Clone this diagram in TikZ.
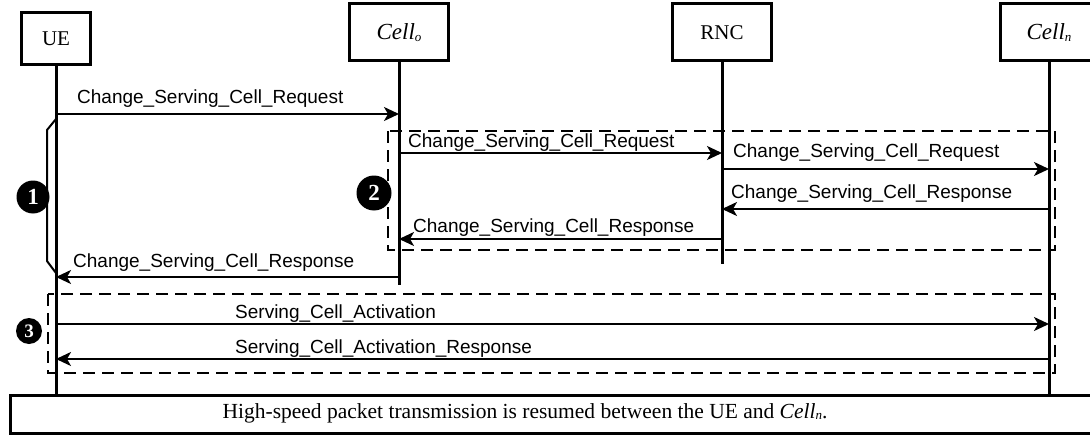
\documentclass[tikz,border=0pt]{standalone}
\usepackage{fontspec}
\setmainfont{Liberation Serif}
\newfontfamily\arialf{Liberation Sans}
\usetikzlibrary{arrows.meta}
\newcommand{\subx}[1]{\raisebox{-1.5pt}{\fontsize{13}{13}\selectfont\itshape #1}}
\begin{document}
\begin{tikzpicture}[x=1pt,y=-1pt,
 actor/.style={draw, line width=3pt, inner sep=0, font=\fontsize{21}{21}\selectfont},
 life/.style={line width=3pt},
 msg/.style={line width=2pt, -{Stealth[length=15pt,width=14pt,inset=4pt]}},
 lbl/.style={font=\arialf\fontsize{19}{19}\selectfont, anchor=base west, inner sep=0},
 grp/.style={line width=2pt, dash pattern=on 12pt off 7pt},
 num/.style={circle, fill=black, text=white, inner sep=0, font=\bfseries\fontsize{23}{23}\selectfont},
 brk/.style={line width=2pt},
]
\useasboundingbox (0,0) rectangle (1090,436);
\fill[white] (0,0) rectangle (1090,436);

% participants
\node[actor, minimum width=69pt, minimum height=52pt] (ue) at (56,39) {UE};
\node[actor, minimum width=99pt, minimum height=57pt, font=\fontsize{23}{23}\selectfont] (co) at (399,32.5) {\itshape Cell\subx{o}};
\node[actor, minimum width=99pt, minimum height=57pt] (rnc) at (722,32.5) {RNC};
\node[actor, minimum width=98pt, minimum height=57pt, font=\fontsize{23}{23}\selectfont] (cn) at (1049,32.5) {\itshape Cell\subx{n}};

% bottom bar
\node[draw, line width=3pt, minimum width=1100pt, minimum height=38pt, anchor=north west, inner sep=0] (bar) at (9,394) {};
\node[font=\fontsize{21.5}{21.5}\selectfont, inner sep=0] (bt) at (525,413) {High-speed packet transmission is resumed between the UE and \textit{Cell}\subx{n}.};

% lifelines
\coordinate (coend) at (399,285);
\coordinate (rncend) at (722,264);
\draw[life] (ue.south) -- (ue.south |- bar.north);
\draw[life] (co.south) -- (coend);
\draw[life] (rnc.south) -- (rncend);
\draw[life] (cn.south) -- (cn.south |- bar.north);

% dashed groups
\draw[grp] (388,131) rectangle (1055,250);
\draw[grp] (48,294) rectangle (1055,373);

% message endpoints
\coordinate (m1a) at (ue.south |- 0,114);  \coordinate (m1b) at (co.south |- 0,114);
\coordinate (m2a) at (co.south |- 0,153);  \coordinate (m2b) at (rnc.south |- 0,153);
\coordinate (m3a) at (rnc.south |- 0,169); \coordinate (m3b) at (cn.south |- 0,169);
\coordinate (m4a) at (cn.south |- 0,209);  \coordinate (m4b) at (rnc.south |- 0,209);
\coordinate (m5a) at (rnc.south |- 0,239); \coordinate (m5b) at (co.south |- 0,239);
\coordinate (m6a) at (co.south |- 0,277);  \coordinate (m6b) at (ue.south |- 0,277);
\coordinate (m7a) at (ue.south |- 0,324);  \coordinate (m7b) at (cn.south |- 0,324);
\coordinate (m8a) at (cn.south |- 0,359);  \coordinate (m8b) at (ue.south |- 0,359);

\draw[msg] (m1a) -- (m1b);
\draw[msg] (m2a) -- (m2b);
\draw[msg] (m3a) -- (m3b);
\draw[msg] (m4a) -- (m4b);
\draw[msg] (m5a) -- (m5b);
\draw[msg] (m6a) -- (m6b);
\draw[msg] (m7a) -- (m7b);
\draw[msg] (m8a) -- (m8b);

% labels
\node[lbl] (l1) at (77,103) {Change\_Serving\_Cell\_Request};
\node[lbl] (l2) at (408,147) {Change\_Serving\_Cell\_Request};
\node[lbl] (l3) at (733,157) {Change\_Serving\_Cell\_Request};
\node[lbl] (l4) at (731,198) {Change\_Serving\_Cell\_Response};
\node[lbl] (l5) at (413,232) {Change\_Serving\_Cell\_Response};
\node[lbl] (l6) at (73,267) {Change\_Serving\_Cell\_Response};
\node[lbl] (l7) at (235,318) {Serving\_Cell\_Activation};
\node[lbl] (l8) at (235,353) {Serving\_Cell\_Activation\_Response};

% bracket 1
\draw[brk] (56,119) -- (47,130) -- (47,261) -- (56,273);

% step markers
\node[num, minimum size=33pt] (n1) at (33,197) {1};
\node[num, minimum size=35pt] (n2) at (374,193) {2};
\node[num, minimum size=26pt, font=\bfseries\fontsize{19}{19}\selectfont] (n3) at (29,331) {3};
\end{tikzpicture}
\end{document}
